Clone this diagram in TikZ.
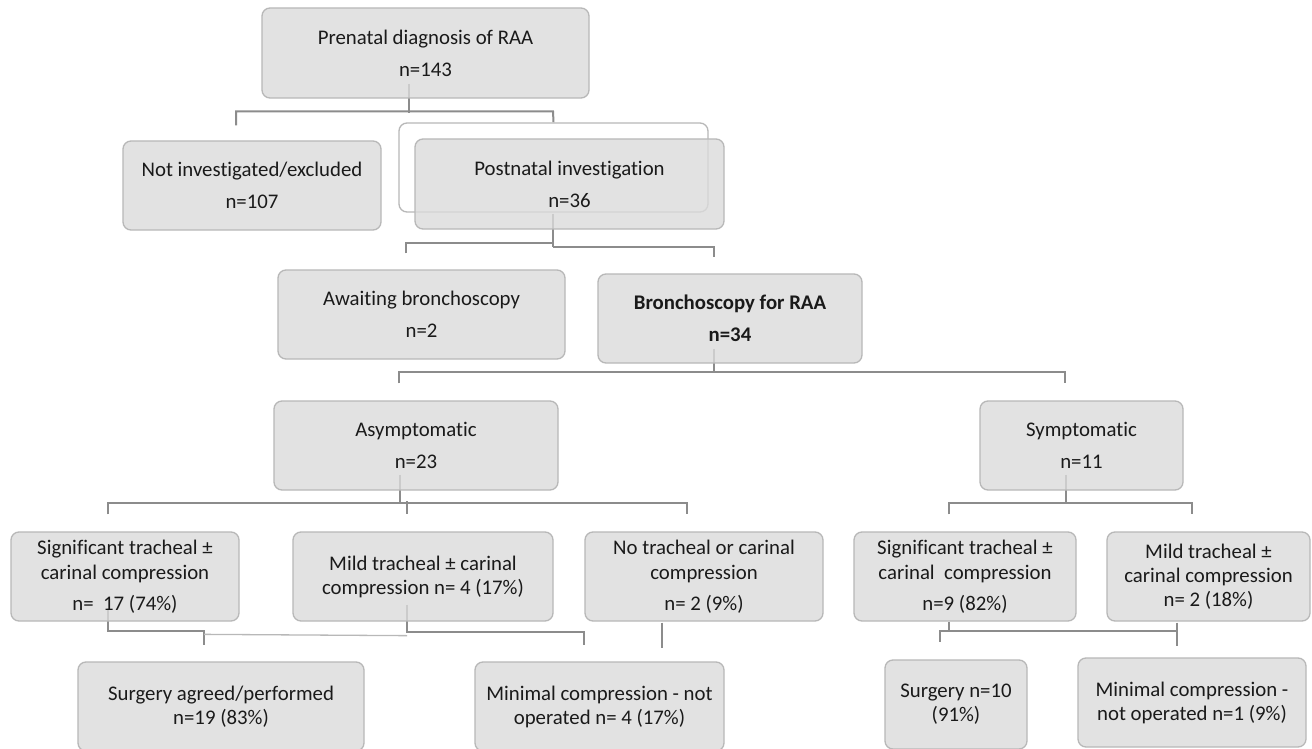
\documentclass[tikz,border=0pt]{standalone}
\usepackage{fontspec}
\setmainfont{Carlito}[Ligatures=NoCommon]
\usetikzlibrary{calc,backgrounds}
\definecolor{boxfill}{HTML}{DBDBDB}
\definecolor{boxline}{HTML}{B8B8B8}
\definecolor{connc}{HTML}{8C8C8C}
\definecolor{txt}{HTML}{1A1A1A}
\pgfdeclarelayer{paper}
\pgfsetlayers{paper,background,main}
\tikzset{
 box/.style={draw=boxline, line width=1.3pt, fill=boxfill, fill opacity=0.8, text opacity=1, draw opacity=1,
   rounded corners=8pt, align=center, inner sep=0pt, text=txt,
   font=\fontsize{20.8}{24}\selectfont},
 conn/.style={draw=connc, line width=2pt},
 faintconn/.style={draw=black!28, line width=1.3pt},
}
\begin{document}
\begin{tikzpicture}[x=1pt,y=1pt]
\useasboundingbox (0,0) rectangle (1312,-749);
\begin{pgfonlayer}{paper}
\fill[white] (0,0) rectangle (1312,-749);
\end{pgfonlayer}

% boxes
\node[box, minimum width=327pt, minimum height=90pt] (pre) at (425.5,-53) {Prenatal diagnosis of RAA\\[8pt]n=143};
\node[box, minimum width=258pt, minimum height=89pt] (notinv) at (252,-185.5) {Not investigated/excluded\\[8pt]n=107};
\node[box, fill=white, fill opacity=1, minimum width=309pt, minimum height=89pt] (outline) at (553.5,-167.5) {};
\node[box, minimum width=309pt, minimum height=90pt] (post) at (569.5,-184) {Postnatal investigation\\[8pt]n=36};
\node[box, minimum width=287pt, minimum height=89pt] (await) at (421.5,-314.5) {Awaiting bronchoscopy\\[8pt]n=2};
\node[box, minimum width=264pt, minimum height=89pt, font=\fontsize{20.8}{24}\selectfont\bfseries] (bron) at (730,-318.5) {Bronchoscopy for RAA\\[8pt]n=34};
\node[box, minimum width=284pt, minimum height=89pt] (asym) at (416,-445.5) {Asymptomatic\\[8pt]n=23};
\node[box, minimum width=203pt, minimum height=89pt] (sym) at (1081.5,-445.5) {Symptomatic\\[8pt]n=11};
\node[box, minimum width=228pt, minimum height=89pt] (sigA) at (125,-576.5) {Significant tracheal ±\\[1pt]carinal compression\\[7pt]n=\ \ 17 (74\%)};
\node[box, minimum width=260pt, minimum height=89pt] (mildA) at (423,-576.5) {Mild tracheal ± carinal\\compression n= 4 (17\%)};
\node[box, minimum width=238pt, minimum height=89pt] (noT) at (704,-576.5) {No tracheal or carinal\\[1pt]compression\\[7pt]n= 2 (9\%)};
\node[box, minimum width=222pt, minimum height=89pt] (sigS) at (965,-576.5) {Significant tracheal ±\\[1pt]carinal\ \ compression\\[7pt]n=9 (82\%)};
\node[box, minimum width=203pt, minimum height=89pt] (mildS) at (1208.5,-576.5) {Mild tracheal ±\\carinal compression\\n= 2 (18\%)};
\node[box, minimum width=286pt, minimum height=89pt] (surgA) at (221,-706.5) {Surgery agreed/performed\\n=19 (83\%)};
\node[box, minimum width=249pt, minimum height=89pt] (minA) at (599.5,-706.5) {Minimal compression - not\\operated n= 4 (17\%)};
\node[box, minimum width=142pt, minimum height=89pt] (surgS) at (956,-704.5) {Surgery n=10\\(91\%)};
\node[box, minimum width=228pt, minimum height=89pt] (minS) at (1192,-702.5) {Minimal compression -\\not operated n=1 (9\%)};

% connectors
\begin{pgfonlayer}{background}
\draw[conn] ($(pre.south)+(-16.5,15)$) -- ($(pre.south)+(-16.5,-14)$);
\draw[conn] ($(notinv.north)+(-16,15)$) |- ($(outline.north)+(-0.5,11)$) -- (outline.north);

\draw[conn] ($(post.south)+(-16.5,16)$) -- ($(post.south)+(-16.5,-17)$);
\draw[conn] ($(await.north)+(-15.5,16)$) |- ($(post.south)+(-16.5,-13)$);
\draw[conn] ($(post.south)+(-16.5,-17)$) -| ($(bron.north)+(-16,16)$);

\draw[conn] ($(bron.south)+(-16,15)$) -- ($(bron.south)+(-16,-8)$);
\draw[conn] ($(asym.north)+(-17,17)$) |- ($(bron.south)+(-16,-8)$) -| ($(sym.north)+(-16.5,17)$);

\draw[conn] ($(asym.south)+(-16,16)$) -- ($(asym.south)+(-16,-12)$);
\draw[conn] ($(sigA.north)+(-17,17)$) |- ($(asym.south)+(-16,-12)$) -| ($(noT.north)+(-17,17)$);
\draw[conn] ($(mildA.north)+(-16,30)$) -- ($(mildA.north)+(-16,17)$);

\draw[conn] ($(sym.south)+(-15.5,16)$) -- ($(sym.south)+(-15.5,-12)$);
\draw[conn] ($(sigS.north)+(-16,17)$) |- ($(sym.south)+(-15.5,-12)$) -| ($(mildS.north)+(-16.5,17)$);

\draw[conn] ($(sigA.south)+(-17,14)$) |- ($(surgA.north)+(-17,30)$) -- ($(surgA.north)+(-17,16)$);
\draw[faintconn] ($(surgA.north)+(-17,27)$) -- ($(mildA.south)+(-16,-14)$);
\draw[conn] ($(mildA.south)+(-16,17)$) |- ($(minA.north)+(-15.5,29)$) -- ($(minA.north)+(-15.5,16)$);
\draw[conn] ($(noT.south)+(-42,-1)$) -- ($(noT.south)+(-42,-26)$);

\draw[conn] ($(sigS.south)+(-16,0)$) -- ($(sigS.south)+(-16,-9)$) -| ($(surgS.north)+(-16,17)$);
\draw[conn] ($(sigS.south)+(-16,-9)$) -- ($(mildS.south)+(-31.5,-9)$);
\draw[conn] ($(mildS.south)+(-31.5,-1)$) -- ($(minS.north)+(-15,11)$);
\end{pgfonlayer}
\end{tikzpicture}
\end{document}
